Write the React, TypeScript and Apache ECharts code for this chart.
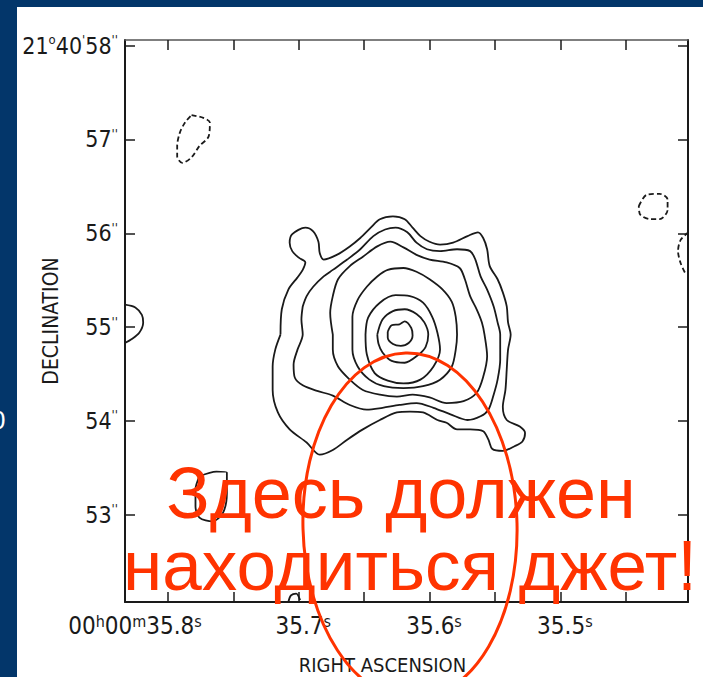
import React, { useEffect, useRef } from "react";
import * as echarts from "echarts";

// Axis ranges (RA in seconds of 00h00m, Dec in arcsec of 21°40')
const raRange = [35.4024, 35.8329];
const decRange = [52.07, 58.06];
const raTickValues = [35.45, 35.5, 35.55, 35.6, 35.65, 35.7, 35.75, 35.8];
const raLabelValues = [35.5, 35.6, 35.7, 35.8];
const decTickValues = [53, 54, 55, 56, 57, 58];

// Contours: [RA seconds, Dec arcsec]
const contourOuter = [
  [35.714, 54.92], [35.713, 55.19], [35.708, 55.4], [35.701, 55.53], [35.697, 55.61], [35.695, 55.69],
  [35.7, 55.74], [35.705, 55.81], [35.707, 55.9], [35.705, 55.99], [35.695, 56.06], [35.689, 56.02],
  [35.685, 55.91], [35.684, 55.79], [35.681, 55.72], [35.671, 55.77], [35.661, 55.86], [35.653, 55.95],
  [35.645, 56.06], [35.638, 56.15], [35.628, 56.18], [35.619, 56.15], [35.613, 56.06], [35.607, 55.97],
  [35.6, 55.91], [35.592, 55.88], [35.582, 55.9], [35.571, 55.97], [35.563, 56.01], [35.559, 55.95],
  [35.556, 55.83], [35.554, 55.65], [35.548, 55.51], [35.544, 55.37], [35.541, 55.22], [35.54, 55.05],
  [35.538, 54.92], [35.54, 54.76], [35.541, 54.55], [35.542, 54.33], [35.544, 54.15], [35.541, 54.01],
  [35.531, 53.94], [35.527, 53.87], [35.529, 53.78], [35.535, 53.73], [35.544, 53.68], [35.552, 53.7],
  [35.555, 53.8], [35.559, 53.89], [35.569, 53.91], [35.579, 53.91], [35.587, 53.98], [35.594, 54.01],
  [35.605, 54.09], [35.615, 54.1], [35.625, 54.09], [35.638, 54.01], [35.651, 53.91], [35.663, 53.8],
  [35.674, 53.69], [35.684, 53.64], [35.694, 53.77], [35.707, 53.91], [35.716, 54.09], [35.72, 54.33],
  [35.72, 54.58], [35.718, 54.76], [35.714, 54.92],
];
const contour2 = [
  [35.697, 55.22], [35.694, 55.33], [35.689, 55.43], [35.681, 55.54], [35.674, 55.61], [35.663, 55.72],
  [35.653, 55.83], [35.643, 55.97], [35.634, 56.04], [35.626, 56.06], [35.617, 56.01], [35.61, 55.9],
  [35.602, 55.83], [35.592, 55.81], [35.579, 55.83], [35.569, 55.81], [35.565, 55.72], [35.561, 55.54],
  [35.556, 55.4], [35.551, 55.22], [35.548, 55.05], [35.546, 54.92], [35.546, 54.65], [35.548, 54.44],
  [35.551, 54.28], [35.555, 54.12], [35.561, 54.05], [35.571, 54.01], [35.584, 54.07], [35.597, 54.14],
  [35.61, 54.19], [35.623, 54.17], [35.636, 54.14], [35.648, 54.12], [35.661, 54.17], [35.674, 54.27],
  [35.686, 54.32], [35.697, 54.38], [35.703, 54.46], [35.704, 54.6], [35.701, 54.76], [35.697, 54.92],
  [35.698, 55.08], [35.697, 55.22],
];
const contour3 = [
  [35.674, 54.92], [35.676, 55.15], [35.674, 55.33], [35.67, 55.51], [35.661, 55.65], [35.651, 55.75],
  [35.64, 55.86], [35.63, 55.91], [35.62, 55.85], [35.61, 55.77], [35.6, 55.72], [35.587, 55.69],
  [35.577, 55.63], [35.573, 55.51], [35.569, 55.33], [35.564, 55.19], [35.56, 55.05], [35.558, 54.92],
  [35.556, 54.69], [35.559, 54.47], [35.564, 54.3], [35.574, 54.21], [35.587, 54.19], [35.6, 54.25],
  [35.613, 54.28], [35.625, 54.26], [35.638, 54.28], [35.651, 54.33], [35.661, 54.44], [35.67, 54.58],
  [35.674, 54.76], [35.674, 54.92],
];
const contour4 = [
  [35.659, 54.92], [35.659, 55.11], [35.655, 55.29], [35.648, 55.43], [35.64, 55.54], [35.632, 55.61],
  [35.62, 55.63], [35.61, 55.59], [35.6, 55.51], [35.59, 55.4], [35.583, 55.27], [35.58, 55.11],
  [35.579, 54.92], [35.58, 54.76], [35.583, 54.58], [35.592, 54.44], [35.605, 54.37], [35.62, 54.35],
  [35.635, 54.37], [35.646, 54.44], [35.655, 54.58], [35.659, 54.76], [35.659, 54.92],
];
const contour5 = [
  [35.649, 54.92], [35.647, 55.1], [35.638, 55.26], [35.626, 55.34], [35.615, 55.33], [35.605, 55.26],
  [35.598, 55.11], [35.594, 54.94], [35.592, 54.76], [35.597, 54.58], [35.607, 54.44], [35.62, 54.4],
  [35.632, 54.43], [35.642, 54.51], [35.648, 54.71], [35.649, 54.92],
];
const contour6 = [
  [35.64, 54.92], [35.636, 55.08], [35.628, 55.17], [35.619, 55.19], [35.61, 55.14], [35.604, 55.05],
  [35.601, 54.92], [35.603, 54.79], [35.609, 54.7], [35.619, 54.62], [35.629, 54.64], [35.636, 54.73],
  [35.639, 54.82], [35.64, 54.92],
];
const contour7 = [
  [35.632, 54.95], [35.629, 55.02], [35.623, 55.03], [35.619, 55.06], [35.614, 54.99], [35.613, 54.91],
  [35.616, 54.83], [35.622, 54.8], [35.628, 54.82], [35.632, 54.89], [35.632, 54.95],
];
const blobLeftEdge = [
  [35.833, 55.24], [35.825, 55.21], [35.82, 55.13], [35.819, 55.05], [35.822, 54.94], [35.828, 54.87], [35.833, 54.83],
];
const blobLowerLeft = [
  [35.776, 53.41], [35.763, 53.46], [35.755, 53.45], [35.755, 53.23], [35.758, 53.02], [35.766, 52.93],
  [35.776, 52.97], [35.779, 53.09], [35.779, 53.27], [35.776, 53.41],
];
const blobBottom = [[35.708, 52.07], [35.706, 52.14], [35.702, 52.16], [35.699, 52.09]];
const negTopLeft = [
  [35.782, 57.26], [35.773, 57.23], [35.768, 57.18], [35.769, 57.03], [35.776, 56.93], [35.782, 56.81],
  [35.789, 56.75], [35.793, 56.82], [35.793, 56.93], [35.791, 57.07], [35.787, 57.18], [35.782, 57.26],
];
const negRight = [
  [35.44, 56.29], [35.434, 56.41], [35.424, 56.42], [35.418, 56.36], [35.418, 56.25], [35.424, 56.15],
  [35.431, 56.15], [35.439, 56.2], [35.44, 56.29],
];
const negRightEdge = [[35.402, 56.01], [35.408, 55.93], [35.41, 55.81], [35.408, 55.68], [35.404, 55.56]];

const solidContours = [contourOuter, contour2, contour3, contour4, contour5, contour6, contour7, blobLeftEdge, blobLowerLeft, blobBottom];
const dashedContours = [negTopLeft, negRight, negRightEdge];

const annotationLines = ["Здесь должен", "находиться джет!"];

export default function App() {
  const ref = useRef<HTMLDivElement>(null);
  useEffect(() => {
    const chart = echarts.init(ref.current!, null, { renderer: "svg" });
    const labelFont = "'Liberation Sans Narrow', 'DejaVu Sans Condensed', 'Liberation Sans', sans-serif";
    const ink = "#1a1a1a";
    const red = "#ff3300";
    const supStyle = { fontSize: 16, fontFamily: labelFont, color: ink, verticalAlign: "top", lineHeight: 14 };
    const supYStyle = { fontSize: 13, fontFamily: labelFont, color: ink, verticalAlign: "top", lineHeight: 12 };
    const numStyle = { fontSize: 24, fontFamily: labelFont, color: ink, lineHeight: 26 };
    const numYStyle = { fontSize: 23, fontFamily: labelFont, color: ink, lineHeight: 25 };
    const mkLine = (d: number[][], dashed: boolean) => ({
      type: "line",
      data: d,
      showSymbol: false,
      symbol: "none",
      smooth: 0.3,
      silent: true,
      clip: true,
      z: 3,
      lineStyle: { color: ink, width: 1.8, type: dashed ? [5, 3] : "solid" },
    });
    const tickCommon = { show: true, inside: true, length: 10, lineStyle: { color: ink, width: 1.5 } };
    chart.setOption({
      animation: false,
      backgroundColor: "transparent",
      grid: { left: 125, top: 40, right: 15, bottom: 75, containLabel: false, outerBoundsMode: "none" },
      xAxis: [
        {
          type: "value", position: "bottom", min: raRange[0], max: raRange[1], inverse: true,
          axisLine: { show: true, lineStyle: { color: ink, width: 2 } },
          axisTick: { ...tickCommon, customValues: raTickValues },
          splitLine: { show: false },
          axisLabel: {
            customValues: raLabelValues, margin: 11, color: ink,
            formatter: (v: number) => {
              const k = Math.round(v * 10);
              const t = (k / 10).toFixed(1);
              if (k === 358) return `{n|00}{sup|h}{n|00}{sup|m}{n|${t}}{sup|s}{padR| }`;
              return `{padL| }{n|${t}}{sup|s}`;
            },
            rich: { n: numStyle, sup: supStyle, padL: { width: 9 }, padR: { width: 66 } },
          },
          name: "RIGHT ASCENSION", nameLocation: "middle", nameGap: 53, nameMoveOverlap: false,
          nameTextStyle: { fontSize: 20, fontFamily: labelFont, color: ink, padding: [0, 48, 0, 0] },
        },
        {
          type: "value", position: "top", min: raRange[0], max: raRange[1], inverse: true,
          axisLine: { show: true, lineStyle: { color: "#555", width: 1.5 } },
          axisTick: { ...tickCommon, customValues: raTickValues },
          axisLabel: { show: false }, splitLine: { show: false },
        },
      ],
      yAxis: [
        {
          type: "value", position: "left", min: decRange[0], max: decRange[1],
          axisLine: { show: true, lineStyle: { color: ink, width: 2 } },
          axisTick: { ...tickCommon, customValues: decTickValues },
          splitLine: { show: false },
          axisLabel: {
            customValues: decTickValues, margin: 7, color: ink,
            formatter: (v: number) => {
              const k = Math.round(v);
              if (k === 58) return `{n|21}{sup|o}{n|40}{sup|'}{n|58}{sup|''}`;
              return `{n|${k}}{sup|''}`;
            },
            rich: { n: numYStyle, sup: supYStyle },
          },
          name: "DECLINATION", nameLocation: "middle", nameRotate: 90, nameGap: 64, nameMoveOverlap: false,
          nameTextStyle: { fontSize: 21, fontFamily: labelFont, color: ink },
        },
        {
          type: "value", position: "right", min: decRange[0], max: decRange[1],
          axisLine: { show: true, lineStyle: { color: ink, width: 2 } },
          axisTick: { ...tickCommon, customValues: decTickValues },
          axisLabel: { show: false }, splitLine: { show: false },
        },
      ],
      series: [
        ...solidContours.map((d) => mkLine(d, false)),
        ...dashedContours.map((d) => mkLine(d, true)),
      ],
      graphic: [
        {
          type: "ellipse", x: 410, y: 526, rotation: 0.025, z: 100, silent: true,
          shape: { cx: 0, cy: 0, rx: 107, ry: 173 },
          style: { fill: "none", stroke: red, lineWidth: 3 },
        },
        {
          type: "text", x: 401, y: 493, z: 101, silent: true,
          style: { text: annotationLines[0], fill: red, fontSize: 72, fontFamily: "'Liberation Sans', Arial, sans-serif", align: "center", verticalAlign: "middle" },
        },
        {
          type: "text", x: 410, y: 565, z: 101, silent: true,
          style: { text: annotationLines[1], fill: red, fontSize: 71, fontFamily: "'Liberation Sans', Arial, sans-serif", align: "center", verticalAlign: "middle" },
        },
        {
          type: "text", x: -9, y: 420, z: 101, silent: true,
          style: { text: "0", fill: "#ffffff", fontSize: 26, fontFamily: "'Liberation Sans', Arial, sans-serif", align: "left", verticalAlign: "middle" },
        },
      ],
    });
    return () => chart.dispose();
  }, []);
  return (
    <div style={{ position: "fixed", left: 0, top: 0, width: 703, height: 677, background: "#03366a", overflow: "hidden" }}>
      <div style={{ position: "absolute", left: 17, top: 7, right: 0, bottom: 0, background: "#ffffff" }} />
      <div ref={ref} style={{ position: "absolute", left: 0, top: 0, width: 703, height: 677 }} />
    </div>
  );
}
